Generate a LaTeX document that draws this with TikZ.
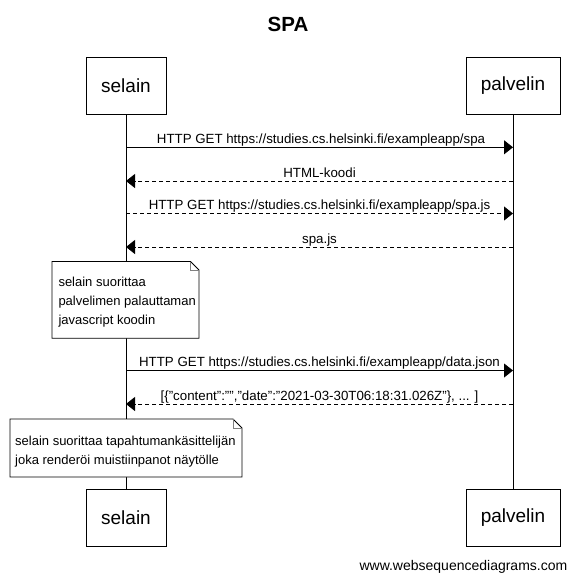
\documentclass[tikz,border=0pt]{standalone}
\usepackage{fontspec}
\setmainfont{Liberation Sans}
\usetikzlibrary{arrows.meta}
\begin{document}
\begin{tikzpicture}[x=1pt,y=-1pt,
  actor/.style={draw, line width=0.8pt, minimum height=57pt, inner sep=0pt, font=\fontsize{19}{22}\selectfont},
  msglabel/.style={font=\fontsize{13.3}{15}\selectfont, anchor=base, inner sep=0pt},
  msg/.style={line width=0.8pt, -{Triangle[length=9pt,width=14pt]}},
  reply/.style={msg, dash pattern=on 4pt off 3pt},
  notetext/.style={anchor=base west, inner sep=0pt, font=\fontsize{13}{15}\selectfont},
  noteframe/.style={draw, line width=0.8pt, fill=white},
  fold/.style={draw=gray, line width=0.8pt},
  life/.style={line width=0.8pt}
]
\useasboundingbox (0,0) rectangle (575,581);

% title
\node[font=\bfseries\fontsize{20.5}{24}\selectfont, anchor=base, inner sep=0pt] (title) at (288,31.7) {SPA};

% actors
\node[actor, minimum width=80pt] (st) at (126,85.5) {selain};
\node[actor, minimum width=94pt] (pt) at (513,85.5) {palvelin};
\node[actor, minimum width=80pt] (sb) at (126,517.5) {selain};
\node[actor, minimum width=94pt] (pb) at (513,517.5) {palvelin};

% lifelines
\draw[life] (st.south) -- (sb.north);
\draw[life] (pt.south) -- (pb.north);

% message anchors on lifelines
\coordinate (s1) at (126,147.3); \coordinate (p1) at (513,147.3);
\coordinate (s2) at (126,181);   \coordinate (p2) at (513,181);
\coordinate (s3) at (126,213.5); \coordinate (p3) at (513,213.5);
\coordinate (s4) at (126,247);   \coordinate (p4) at (513,247);
\coordinate (s5) at (126,370.5); \coordinate (p5) at (513,370.5);
\coordinate (s6) at (126,404);   \coordinate (p6) at (513,404);

\draw[msg] (s1) -- (p1);
\node[msglabel] (l1) at (321,143.3) {HTTP GET https://studies.cs.helsinki.fi/exampleapp/spa};
\draw[reply] (p2) -- (s2);
\node[msglabel] (l2) at (319.5,177) {HTML-koodi};
\draw[reply] (s3) -- (p3);
\node[msglabel] (l3) at (319.5,209.5) {HTTP GET https://studies.cs.helsinki.fi/exampleapp/spa.js};
\draw[reply] (p4) -- (s4);
\node[msglabel] (l4) at (319.5,243) {spa.js};
\draw[msg] (s5) -- (p5);
\node[msglabel] (l5) at (319.5,366.5) {HTTP GET https://studies.cs.helsinki.fi/exampleapp/data.json};
\draw[reply] (p6) -- (s6);
\node[msglabel] (l6) at (319.5,400) {[\{"content":"","date":"2021-03-30T06:18:31.026Z"\}, ... ]};

% note 1
\coordinate (n1nw) at (52,261.5);
\coordinate (n1se) at (199,338.3);
\draw[noteframe] (n1nw) -- (190.5,261.5) -- (199,270) -- (n1se) -- (52,338.3) -- cycle;
\draw[fold] (190.5,261.5) -- (190.5,270) -- (199,270);
\node[notetext] (n1a) at (58.3,286.5) {selain suorittaa};
\node[notetext] (n1b) at (58.3,305.5) {palvelimen palauttaman};
\node[notetext] (n1c) at (58.3,324.5) {javascript koodin};

% note 2
\coordinate (n2nw) at (10,419);
\coordinate (n2se) at (242,477);
\draw[noteframe] (n2nw) -- (233,419) -- (242,428) -- (n2se) -- (10,477) -- cycle;
\draw[fold] (233,419) -- (233,428) -- (242,428);
\node[notetext] (n2a) at (15,445.5) {selain suorittaa tapahtumankäsittelijän};
\node[notetext] (n2b) at (15,464) {joka renderöi muistiinpanot näytölle};

% watermark
\node[anchor=base east, inner sep=0pt, font=\fontsize{14}{16}\selectfont] (wm) at (567.5,570) {www.websequencediagrams.com};
\end{tikzpicture}
\end{document}
